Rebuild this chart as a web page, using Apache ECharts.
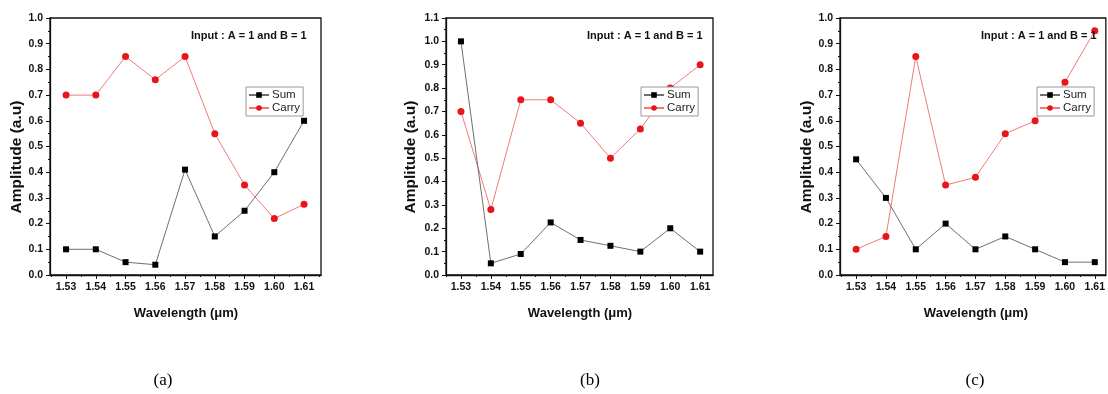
<!DOCTYPE html>
<html>
<head>
<meta charset="utf-8">
<script src="https://cdn.jsdelivr.net/npm/echarts@6/dist/echarts.min.js"></script>
<style>
html,body{margin:0;padding:0;background:#fff;}
#chart{width:1108px;height:394px;}
</style>
</head>
<body>
<div id="chart"></div>
<script>
// ---- data ----
const wavelengths = [1.53, 1.54, 1.55, 1.56, 1.57, 1.58, 1.59, 1.60, 1.61];
const minorWavelengths = [1.525, 1.535, 1.545, 1.555, 1.565, 1.575, 1.585, 1.595, 1.605, 1.615];
const sumA   = [0.10, 0.10, 0.05, 0.04, 0.41, 0.15, 0.25, 0.40, 0.60];
const carryA = [0.70, 0.70, 0.85, 0.76, 0.85, 0.55, 0.35, 0.22, 0.275];
const sumB   = [1.00, 0.05, 0.09, 0.225, 0.15, 0.125, 0.10, 0.20, 0.10];
const carryB = [0.70, 0.28, 0.75, 0.75, 0.65, 0.50, 0.625, 0.80, 0.90];
const sumC   = [0.45, 0.30, 0.10, 0.20, 0.10, 0.15, 0.10, 0.05, 0.05];
const carryC = [0.10, 0.15, 0.85, 0.35, 0.38, 0.55, 0.60, 0.75, 0.95];
const yMaxes = [1.0, 1.1, 1.0];
const seriesNames = ['Sum', 'Carry'];
const annotation = 'Input : A = 1 and B = 1';
const yTitle = 'Amplitude (a.u)';
const xTitle = 'Wavelength (\u03bcm)';
const captions = ['(a)', '(b)', '(c)'];

// ---- layout ----
const panels = [
  {left: 50,  width: 271, xMin: 1.5246, xMax: 1.6157, legendLeft: 246, annLeft: 191, yTitleX: 17,  xTitleX: 186, capX: 163, sum: sumA, carry: carryA},
  {left: 446, width: 267, xMin: 1.5250, xMax: 1.6143, legendLeft: 641, annLeft: 587, yTitleX: 411, xTitleX: 580, capX: 590, sum: sumB, carry: carryB},
  {left: 840, width: 267, xMin: 1.5246, xMax: 1.6137, legendLeft: 1037, annLeft: 981, yTitleX: 807, xTitleX: 976, capX: 975, sum: sumC, carry: carryC}
];
const TOP = 18, HEIGHT = 257;
const FONT = '"Liberation Sans", Arial, sans-serif';

const grid = [], xAxis = [], yAxis = [], series = [], legend = [], graphic = [];
panels.forEach((p, i) => {
  grid.push({left: p.left, top: TOP, width: p.width, height: HEIGHT, show: true, borderColor: '#111', borderWidth: 1.3, backgroundColor: 'transparent'});
  // main x axis
  xAxis.push({
    type: 'value', gridIndex: i, min: p.xMin, max: p.xMax,
    axisLine: {show: true, onZero: false, lineStyle: {color: '#111', width: 1.3}},
    axisTick: {show: true, inside: false, length: 4, customValues: wavelengths, lineStyle: {color: '#111'}},
    axisLabel: {show: true, customValues: wavelengths, margin: 7, formatter: v => v.toFixed(2),
      color: '#111', fontFamily: FONT, fontWeight: 'bold', fontSize: 10.5},
    splitLine: {show: false}
  });
  // minor tick x axis
  xAxis.push({
    type: 'value', gridIndex: i, min: p.xMin, max: p.xMax, position: 'bottom',
    axisLine: {show: false},
    axisTick: {show: true, inside: false, length: 2, customValues: minorWavelengths, lineStyle: {color: '#111'}},
    axisLabel: {show: false, customValues: minorWavelengths},
    splitLine: {show: false}
  });
  yAxis.push({
    type: 'value', gridIndex: i, min: 0, max: yMaxes[i], interval: 0.1,
    axisLine: {show: true, onZero: false, lineStyle: {color: '#111', width: 1.3}},
    axisTick: {show: true, inside: false, length: 4, lineStyle: {color: '#111'}},
    minorTick: {show: true, splitNumber: 2, length: 2, lineStyle: {color: '#111'}},
    axisLabel: {margin: 7, formatter: v => v.toFixed(1), color: '#111', fontFamily: FONT, fontWeight: 'bold', fontSize: 10.5},
    splitLine: {show: false}
  });
  series.push({
    name: seriesNames[0], type: 'line', xAxisIndex: i * 2, yAxisIndex: i,
    data: wavelengths.map((w, k) => [w, p.sum[k]]),
    symbol: 'rect', symbolSize: 6, showAllSymbol: true,
    itemStyle: {color: '#000'}, lineStyle: {color: '#707070', width: 1},
    z: 3, animation: false
  });
  series.push({
    name: seriesNames[1], type: 'line', xAxisIndex: i * 2, yAxisIndex: i,
    data: wavelengths.map((w, k) => [w, p.carry[k]]),
    symbol: 'circle', symbolSize: 7, showAllSymbol: true,
    itemStyle: {color: '#e8141a'}, lineStyle: {color: '#f07a7a', width: 1},
    z: 2, animation: false
  });
  legend.push({
    data: seriesNames, left: p.legendLeft, top: 87, orient: 'vertical',
    itemGap: 1, itemWidth: 20, itemHeight: 7, padding: [2, 3, 2, 2],
    borderColor: '#999', borderWidth: 1, backgroundColor: '#fff',
    textStyle: {fontFamily: FONT, fontSize: 11.5, color: '#222', padding: [0, 0, 0, -2]},
    selectedMode: false
  });
  graphic.push({type: 'text', left: p.annLeft, top: 30, z: 10,
    style: {text: annotation, font: 'bold 11px ' + FONT, fill: '#111'}});
  graphic.push({type: 'text', x: p.yTitleX, y: 157, rotation: Math.PI / 2, z: 10,
    style: {text: yTitle, font: 'bold 15.5px ' + FONT, fill: '#111', align: 'center', verticalAlign: 'middle'}});
  graphic.push({type: 'text', x: p.xTitleX, y: 313, z: 10,
    style: {text: xTitle, font: 'bold 13px ' + FONT, fill: '#111', align: 'center', verticalAlign: 'middle'}});
  graphic.push({type: 'text', x: p.capX, y: 381, z: 10,
    style: {text: captions[i], font: '17px "Liberation Serif", "Times New Roman", serif', fill: '#000', align: 'center', verticalAlign: 'middle'}});
});

const chart = echarts.init(document.getElementById('chart'), null, {renderer: 'canvas'});
chart.setOption({
  animation: false,
  backgroundColor: '#fff',
  grid, xAxis, yAxis, series, legend, graphic
});
</script>
</body>
</html>
